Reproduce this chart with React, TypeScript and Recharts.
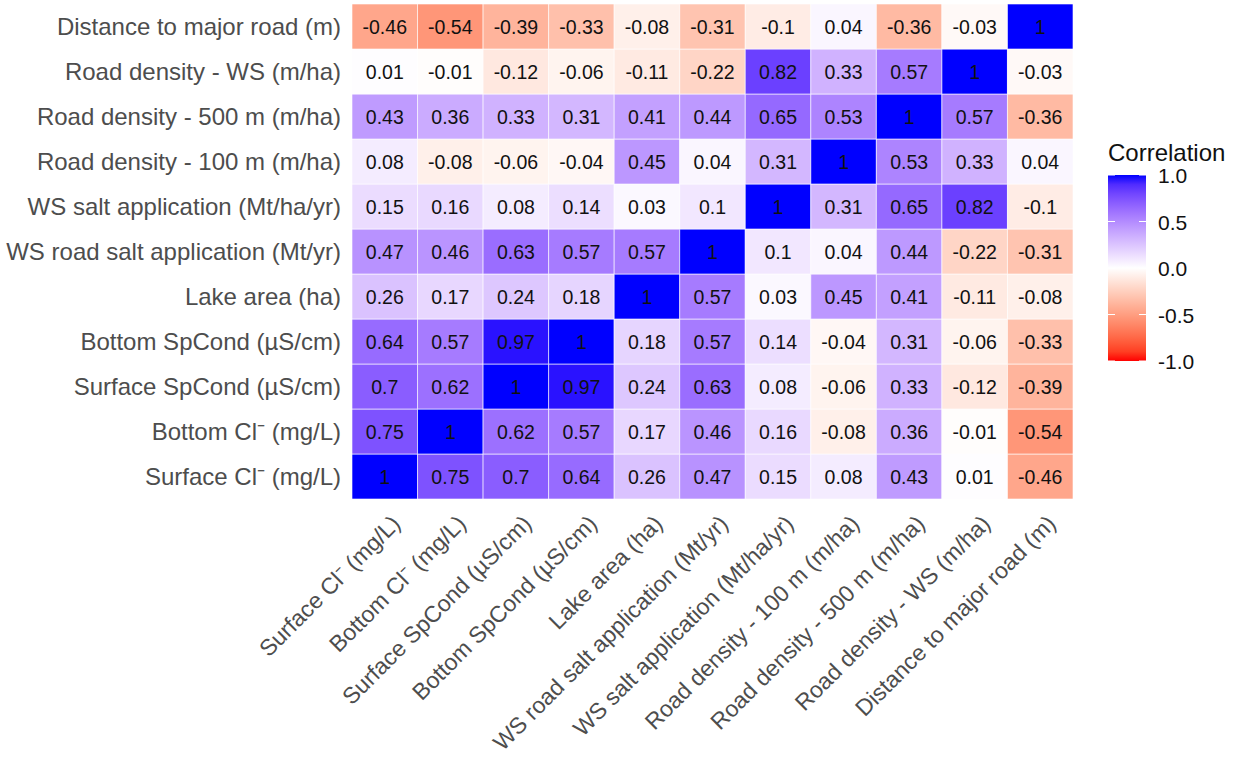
import { Bar, BarChart, Cell, LabelList, XAxis, YAxis } from 'recharts';

// variable order along the x axis (and bottom -> top on the y axis)
const variables = [
  'Surface Cl⁻ (mg/L)',
  'Bottom Cl⁻ (mg/L)',
  'Surface SpCond (µS/cm)',
  'Bottom SpCond (µS/cm)',
  'Lake area (ha)',
  'WS road salt application (Mt/yr)',
  'WS salt application (Mt/ha/yr)',
  'Road density - 100 m (m/ha)',
  'Road density - 500 m (m/ha)',
  'Road density - WS (m/ha)',
  'Distance to major road (m)',
];

// correlation of each variable with every variable, same order as above
const surfaceCl = [1, 0.75, 0.7, 0.64, 0.26, 0.47, 0.15, 0.08, 0.43, 0.01, -0.46];
const bottomCl = [0.75, 1, 0.62, 0.57, 0.17, 0.46, 0.16, -0.08, 0.36, -0.01, -0.54];
const surfaceSpCond = [0.7, 0.62, 1, 0.97, 0.24, 0.63, 0.08, -0.06, 0.33, -0.12, -0.39];
const bottomSpCond = [0.64, 0.57, 0.97, 1, 0.18, 0.57, 0.14, -0.04, 0.31, -0.06, -0.33];
const lakeArea = [0.26, 0.17, 0.24, 0.18, 1, 0.57, 0.03, 0.45, 0.41, -0.11, -0.08];
const wsRoadSalt = [0.47, 0.46, 0.63, 0.57, 0.57, 1, 0.1, 0.04, 0.44, -0.22, -0.31];
const wsSaltApp = [0.15, 0.16, 0.08, 0.14, 0.03, 0.1, 1, 0.31, 0.65, 0.82, -0.1];
const roadDens100 = [0.08, -0.08, -0.06, -0.04, 0.45, 0.04, 0.31, 1, 0.53, 0.33, 0.04];
const roadDens500 = [0.43, 0.36, 0.33, 0.31, 0.41, 0.44, 0.65, 0.53, 1, 0.57, -0.36];
const roadDensWS = [0.01, -0.01, -0.12, -0.06, -0.11, -0.22, 0.82, 0.33, 0.57, 1, -0.03];
const distMajorRoad = [-0.46, -0.54, -0.39, -0.33, -0.08, -0.31, -0.1, 0.04, -0.36, -0.03, 1];

const corr = [
  surfaceCl, bottomCl, surfaceSpCond, bottomSpCond, lakeArea, wsRoadSalt,
  wsSaltApp, roadDens100, roadDens500, roadDensWS, distMajorRoad,
];

const legendTicks = [1, 0.5, 0, -0.5, -1];

const FONT = 'Arial, "Liberation Sans", Helvetica, sans-serif';
const AXIS_TEXT = '#4d4d4d';

// --- Lab colour interpolation (like ggplot's scale_fill_gradient2) ---
type Lab = [number, number, number];
const toLin = (c: number) => {
  c /= 255;
  return c <= 0.04045 ? c / 12.92 : Math.pow((c + 0.055) / 1.055, 2.4);
};
const fromLin = (c: number) => {
  const v = c <= 0.0031308 ? 12.92 * c : 1.055 * Math.pow(c, 1 / 2.4) - 0.055;
  return Math.round(Math.min(1, Math.max(0, v)) * 255);
};
const Xn = 0.95047, Yn = 1, Zn = 1.08883;
const rgbToLab = (r: number, g: number, b: number): Lab => {
  const R = toLin(r), G = toLin(g), B = toLin(b);
  const X = (0.4124564 * R + 0.3575761 * G + 0.1804375 * B) / Xn;
  const Y = (0.2126729 * R + 0.7151522 * G + 0.072175 * B) / Yn;
  const Z = (0.0193339 * R + 0.119192 * G + 0.9503041 * B) / Zn;
  const f = (t: number) => (t > 0.008856 ? Math.cbrt(t) : 7.787 * t + 16 / 116);
  const fx = f(X), fy = f(Y), fz = f(Z);
  return [116 * fy - 16, 500 * (fx - fy), 200 * (fy - fz)];
};
const labToHex = ([L, a, b]: Lab) => {
  const fy = (L + 16) / 116;
  const fx = fy + a / 500;
  const fz = fy - b / 200;
  const inv = (f: number) => (f ** 3 > 0.008856 ? f ** 3 : (f - 16 / 116) / 7.787);
  const X = Xn * inv(fx), Y = Yn * inv(fy), Z = Zn * inv(fz);
  const r = 3.2404542 * X - 1.5371385 * Y - 0.4985314 * Z;
  const g = -0.969266 * X + 1.8760108 * Y + 0.041556 * Z;
  const bb = 0.0556434 * X - 0.2040259 * Y + 1.0572252 * Z;
  return '#' + [r, g, bb].map((c) => fromLin(c).toString(16).padStart(2, '0')).join('');
};
const LOW = rgbToLab(255, 0, 0);
const MID = rgbToLab(255, 255, 255);
const HIGH = rgbToLab(0, 0, 255);
const corrColor = (v: number) => {
  const t = Math.min(1, Math.abs(v));
  const end = v >= 0 ? HIGH : LOW;
  return labToHex([0, 1, 2].map((k) => MID[k] + (end[k] - MID[k]) * t) as Lab);
};

const rows = variables.map((name, i) => {
  const row: Record<string, any> = { name };
  corr[i].forEach((v, j) => {
    row[`c${j}`] = 1;
    row[`v${j}`] = v;
  });
  return row;
});

const YTick = (props: any) => {
  const { x, y, payload } = props;
  return (
    <text x={x} y={y} dy="0.35em" textAnchor="end" fontSize={24} fill={AXIS_TEXT} fontFamily={FONT}>
      {payload.value}
    </text>
  );
};

const XTick = (props: any) => {
  const { x, y, payload } = props;
  const label = variables[Math.floor(payload.value)];
  const tx = x + 17;
  const ty = y + 18;
  return (
    <text
      x={tx}
      y={ty}
      textAnchor="end"
      fontSize={23}
      fill={AXIS_TEXT}
      fontFamily={FONT}
      transform={`rotate(-45, ${tx}, ${ty})`}
    >
      {label}
    </text>
  );
};

const CellLabel = (props: any) => {
  const { x, y, width, height, value } = props;
  return (
    <text
      x={x + width / 2}
      y={y + height / 2}
      dy="0.36em"
      textAnchor="middle"
      fontSize={19.5}
      fill="#111"
      fontFamily={FONT}
    >
      {String(value)}
    </text>
  );
};

function ColorLegend() {
  const top = 175;
  const h = 186;
  const left = 1108;
  const w = 38;
  const yOf = (v: number) => top + ((1 - v) / 2) * h;
  const stops = Array.from({ length: 21 }, (_, k) => 1 - k * 0.1);
  return (
    <svg
      width={1233}
      height={757}
      style={{ position: 'absolute', left: 0, top: 0, pointerEvents: 'none' }}
    >
      <defs>
        <linearGradient id="corrGrad" x1="0" y1="0" x2="0" y2="1">
          {stops.map((v, k) => (
            <stop key={k} offset={`${(k / 20) * 100}%`} stopColor={corrColor(v)} />
          ))}
        </linearGradient>
      </defs>
      <text x={left} y={161} fontSize={24} fill="#111" fontFamily={FONT}>
        Correlation
      </text>
      <rect x={left} y={top} width={w} height={h} fill="url(#corrGrad)" />
      {legendTicks.map((v) => (
        <g key={v}>
          <line x1={left} x2={left + 7} y1={yOf(v)} y2={yOf(v)} stroke="#fff" strokeWidth={1} />
          <line x1={left + w - 7} x2={left + w} y1={yOf(v)} y2={yOf(v)} stroke="#fff" strokeWidth={1} />
          <text x={1158} y={yOf(v) + 8} fontSize={21} fill="#111" fontFamily={FONT}>
            {v.toFixed(1)}
          </text>
        </g>
      ))}
    </svg>
  );
}

export default function App() {
  return (
    <div
      style={{
        position: 'absolute',
        left: 0,
        top: 0,
        width: 1233,
        height: 757,
        background: '#fff',
        fontFamily: FONT,
      }}
    >
      <BarChart
        width={1233}
        height={757}
        data={rows}
        layout="vertical"
        barCategoryGap={0}
        barGap={0}
        margin={{ top: 4, right: 160, bottom: 0, left: 0 }}
      >
        <XAxis
          type="number"
          domain={[0, 11]}
          ticks={variables.map((_, i) => i + 0.5)}
          interval={0}
          height={258}
          axisLine={false}
          tickLine={false}
          tick={<XTick />}
        />
        <YAxis
          type="category"
          dataKey="name"
          reversed
          width={352}
          interval={0}
          axisLine={false}
          tickLine={false}
          tickSize={0}
          tickMargin={11}
          tick={<YTick />}
        />
        {variables.map((_, j) => (
          <Bar key={j} dataKey={`c${j}`} stackId="m" isAnimationActive={false}>
            {rows.map((r, i) => (
              <Cell key={i} fill={corrColor(r[`v${j}`])} stroke="#fff" strokeWidth={0.6} />
            ))}
            <LabelList dataKey={`v${j}`} content={<CellLabel />} />
          </Bar>
        ))}
      </BarChart>
      <ColorLegend />
    </div>
  );
}
